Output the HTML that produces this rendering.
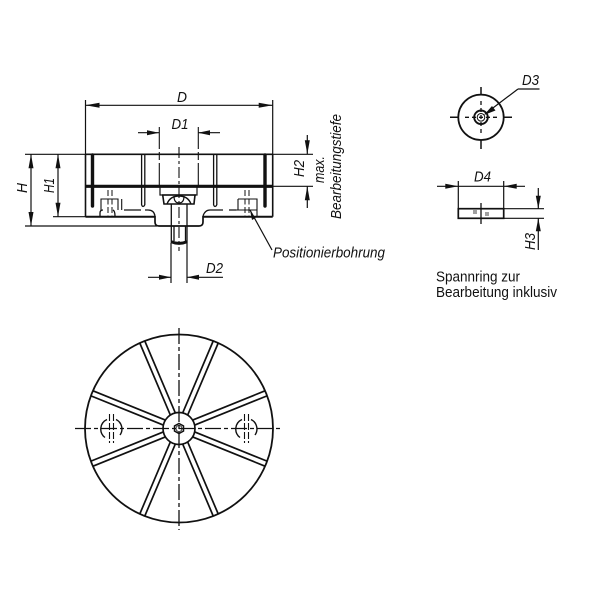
<!DOCTYPE html>
<html><head><meta charset="utf-8"><style>
html,body{margin:0;padding:0;background:#fff}
svg{display:block;filter:blur(0.35px)}
text{font-family:"Liberation Sans",sans-serif;fill:#111}
.i{font-style:italic}
</style></head><body>
<svg width="600" height="600" viewBox="0 0 600 600" xmlns="http://www.w3.org/2000/svg">
<rect width="600" height="600" fill="#fff"/>
<g fill="none" stroke="#111" stroke-width="1.2">
<!-- dimension lines -->
<path d="M85.5 100V154M272.7 100V154M85.5 105.3H272.7"/>
<path d="M138 132.7H159M198 132.7H220"/>
<path d="M25 154.3H85.5M25 226H157M53 216.7H85.5M31 154.3V226M58 154.3V216.7"/>
<path d="M272.7 154.3H313M272.7 186.3H313M307.3 135V154M307.3 186.3V208"/>
<path d="M148 277.3H171M187 277.3H223M171 243V283M187 243V283"/>
<path d="M250 210L272 250"/>
<path d="M518 89H539.5M518 89L485 114"/>
<path d="M437 186.3H525M458.3 181V209M503.7 181V209M503.7 208.7H544M503.7 218.3H544M538.3 188V209M538.3 218V250"/>
<path d="M450 117.3H459M503 117.3H512M481 87V95M481 140V149" stroke-width="1.5"/>
<path d="M465 117.3H497M481 101V134" stroke-width="1.3" stroke-dasharray="4 3"/>
</g>
<!-- arrowheads -->
<g fill="#111">
<path d="M85.5 105.3l14-2.500v5zM272.7 105.3l-14-2.500v5z"/>
<path d="M159 132.7l-12-2.500v5zM198 132.7l12-2.500v5z"/>
<path d="M31 154.3l-2.500 14h5zM31 226l-2.500-14h5zM58 154.3l-2.500 14h5zM58 216.7l-2.500-14h5z"/>
<path d="M307.3 154.3l-2.500-14h5zM307.3 186.3l-2.500 14h5z"/>
<path d="M171 277.3l-12-2.500v5zM187 277.3l12-2.500v5z"/>
<path d="M458.3 186.3l-13-2.500v5zM503.7 186.3l13-2.500v5z"/>
<path d="M538.3 208.7l-2.500-13h5zM538.3 218.3l-2.500 13h5z"/>
<path d="M484 115l8-9 3.500 4.500z"/>
<path d="M250 210l2 10 3.500-2z"/>
</g>
<!-- side section -->
<g fill="none" stroke="#111">
<path d="M85.5 154.3H272.700" stroke-width="1.700"/>
<path d="M85.5 154V216.700M272.700 154V216.700" stroke-width="1.600"/>
<path d="M85.500 186.300H272.700" stroke-width="3.200"/>
<path d="M92.500 155V206M265 155V206" stroke-width="3.400" stroke-linecap="round"/>
<path d="M141.600 155V205M144.800 155V205M213.600 155V205M216.800 155V205" stroke-width="1.300"/>
<path d="M141.600 205Q143 208 144.800 205M213.600 205Q215 208 216.800 205" stroke-width="1.300"/>
<path d="M85.500 216.700H155M203 216.700H272.700" stroke-width="2"/>
<path d="M155 216V222Q155 226 159 226H199Q203 226 203 222V216" stroke-width="1.700"/>
<path d="M124 210H141M229 210H236.700M100 216V213Q100 210 103 210M113 210Q115 211 115 216" stroke-width="1.300"/>
<path d="M145 210H148Q154 210 155 216M203 216Q205 210 210 210H223" stroke-width="1.300"/>
<path d="M101 210V199H118V210M121.700 199V210M236.700 210H257V216M238 199H257V210M238 199V210" stroke-width="1.100"/>
<path d="M108 190V216M112 190V216M245 190V216M249 190V216" stroke-width="1" stroke-dasharray="6 2.500"/>
<path d="M159.300 127V186M198.300 127V186" stroke-width="1.100" stroke-dasharray="22 3 8 3"/>
<path d="M160 186V195H197V186" stroke-width="1.200"/>
<path d="M162.700 195L164 204H194L195 195M162 195H196" stroke-width="1.600"/>
<path d="M167 204Q170 196 179 196Q188 196 191 204" stroke-width="1.400"/>
<path d="M174 196Q174 203 179 203Q184 203 184 196" stroke-width="1.200"/>
<path d="M171.300 204V243M187 204V243" stroke-width="1.300"/>
<path d="M174 226V241M185.500 226V241" stroke-width="1.300"/>
<path d="M171.300 241.700Q179 245 187 241.700" stroke-width="3"/>
<path d="M179 147V251" stroke-width="1.100" stroke-dasharray="11 3 3 3"/>
</g>
<!-- plan view -->
<g fill="none" stroke="#111" stroke-width="1.700">
<circle cx="179" cy="428.500" r="94" stroke-width="1.800"/>
<circle cx="179" cy="428.500" r="16" stroke-width="1.700"/>
<g>
<path d="M176.300 413V335M181.700 413V335" transform="rotate(23 179 428.500)"/>
<path d="M176.300 413V335M181.700 413V335" transform="rotate(68 179 428.500)"/>
<path d="M176.300 413V335M181.700 413V335" transform="rotate(112 179 428.500)"/>
<path d="M176.300 413V335M181.700 413V335" transform="rotate(157 179 428.500)"/>
<path d="M176.300 413V335M181.700 413V335" transform="rotate(-23 179 428.500)"/>
<path d="M176.300 413V335M181.700 413V335" transform="rotate(-68 179 428.500)"/>
<path d="M176.300 413V335M181.700 413V335" transform="rotate(-112 179 428.500)"/>
<path d="M176.300 413V335M181.700 413V335" transform="rotate(-157 179 428.500)"/>
</g>
<path d="M179 423.500L183.500 426V431L179 433.500L174.500 431V426Z" stroke-width="1.500"/>
<circle cx="179" cy="428.500" r="3" stroke-width="0.800"/>
<path d="M179 328V530M75 428.500H283" stroke-width="1.300" stroke-dasharray="16 3 4 3"/>
<path d="M107 419.500A10.500 10.500 0 0 0 105 437.500M116 419.500A10.500 10.500 0 0 1 120 435M242 419.500A10.500 10.500 0 0 0 240 437.500M251 419.500A10.500 10.500 0 0 1 255 435" stroke-width="1.400"/>
<path d="M109.500 414V443M113.500 414V443M244.500 414V443M248.500 414V443" stroke-width="1.100" stroke-dasharray="7 2"/>
</g>
<!-- spann ring -->
<g fill="none" stroke="#111">
<circle cx="481" cy="117.300" r="22.700" stroke-width="1.800"/>
<circle cx="481" cy="117.300" r="6.800" stroke-width="1.900"/>
<circle cx="481" cy="117.300" r="3.800" stroke-width="1"/>
<rect x="458.300" y="208.700" width="45.400" height="9.600" stroke-width="1.700"/>
<path d="M481 203V224" stroke-width="1.300"/>
<path d="M474 210V214M476 210V214M486 212V216M488 212V216" stroke-width="0.800"/>
</g>
<!-- labels -->
<g>
<text class="i" x="177" y="102" font-size="15" textLength="10" lengthAdjust="spacingAndGlyphs">D</text>
<text class="i" x="171.500" y="129" font-size="15" textLength="17" lengthAdjust="spacingAndGlyphs">D1</text>
<text class="i" x="206" y="273" font-size="15" textLength="17" lengthAdjust="spacingAndGlyphs">D2</text>
<text class="i" x="522" y="85" font-size="15" textLength="17" lengthAdjust="spacingAndGlyphs">D3</text>
<text class="i" x="474" y="181.500" font-size="15" textLength="17" lengthAdjust="spacingAndGlyphs">D4</text>
<text class="i" transform="translate(27 193) rotate(-90)" font-size="15" textLength="10" lengthAdjust="spacingAndGlyphs">H</text>
<text class="i" transform="translate(54 193) rotate(-90)" font-size="15" textLength="15" lengthAdjust="spacingAndGlyphs">H1</text>
<text class="i" transform="translate(304 177) rotate(-90)" font-size="15" textLength="17" lengthAdjust="spacingAndGlyphs">H2</text>
<text class="i" transform="translate(535 250) rotate(-90)" font-size="15" textLength="17" lengthAdjust="spacingAndGlyphs">H3</text>
<text class="i" transform="translate(324 183) rotate(-90)" font-size="15" textLength="27" lengthAdjust="spacingAndGlyphs">max.</text>
<text class="i" transform="translate(341 219) rotate(-90)" font-size="15" textLength="105" lengthAdjust="spacingAndGlyphs">Bearbeitungstiefe</text>
<text class="i" x="273" y="257.700" font-size="15" textLength="112" lengthAdjust="spacingAndGlyphs">Positionierbohrung</text>
</g>
<text x="436" y="281.700" font-size="15" textLength="84" lengthAdjust="spacingAndGlyphs">Spannring zur</text>
<text x="436" y="297" font-size="15" textLength="121" lengthAdjust="spacingAndGlyphs">Bearbeitung inklusiv</text>
</svg>
</body></html>
